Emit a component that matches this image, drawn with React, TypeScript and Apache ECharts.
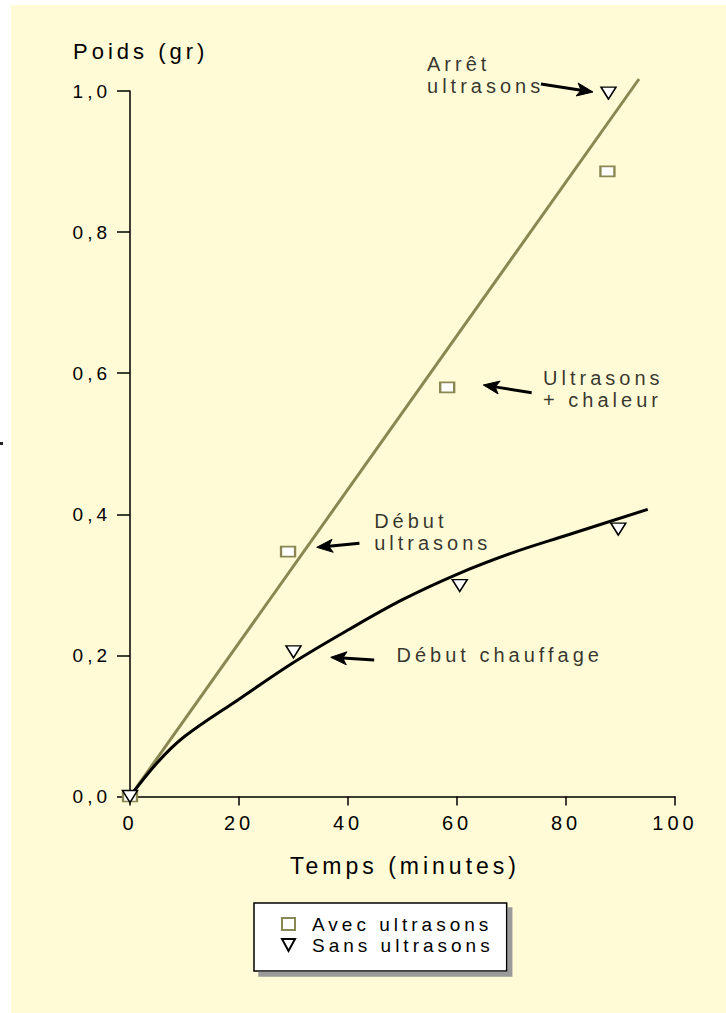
import React, { useEffect, useRef } from "react";
import * as echarts from "echarts";

// ---- data ----
const xTickValues = [0, 20, 40, 60, 80, 100];
const yTickValues = [0, 0.2, 0.4, 0.6, 0.8, 1.0];

const avecX = [0, 29.0, 58.2, 87.6];
const avecY = [0, 0.347, 0.58, 0.886];

const sansX = [0, 30.0, 60.5, 89.6, 87.8];
const sansY = [0, 0.205, 0.299, 0.379, 0.997];

const fitAvecX = [0, 93.4];
const fitAvecY = [0, 1.017];

const fitSansX = [0, 5, 10, 20, 30, 40, 50, 60, 70, 80, 95];
const fitSansY = [0, 0.048, 0.085, 0.138, 0.19, 0.236, 0.279, 0.315, 0.345, 0.37, 0.407];

const annotationTexts = ["Arrêt\nultrasons", "Ultrasons\n+ chaleur", "Début\nultrasons", "Début chauffage"];
const annotationX = [54.5, 75.8, 44.8, 48.9];
const annotationY = [1.0227, 0.5783, 0.3756, 0.2006];

// arrow tail (from) and tip (to)
const arrowFromX = [75.4, 73.7, 42.1, 44.8];
const arrowFromY = [1.01, 0.5723, 0.3589, 0.1935];
const arrowToX = [84.95, 64.83, 34.26, 36.83];
const arrowToY = [0.9986, 0.5833, 0.3532, 0.1973];

const legendNames = ["Avec ultrasons", "Sans ultrasons"];
const yAxisTitle = "Poids (gr)";
const xAxisTitle = "Temps (minutes)";

const OLIVE = "#8a8752";
const FONT = "'Liberation Sans', Arial, Helvetica, sans-serif";

export default function App() {
  const ref = useRef<HTMLDivElement>(null);

  useEffect(() => {
    if (!ref.current) return;
    const chart = echarts.init(ref.current, null, { renderer: "svg" });
    const option: any = {
      animation: false,
      backgroundColor: "#ffffff",
      textStyle: { fontFamily: FONT, color: "#000" },
      grid: { left: 130, right: 51, top: 91, bottom: 216.5, containLabel: false },
      graphic: [
        {
          type: "rect",
          z: -100,
          silent: true,
          shape: { x: 11, y: 5, width: 715, height: 1008 },
          style: { fill: "#fffbd6" },
        },
        {
          type: "rect",
          z: -99,
          silent: true,
          shape: { x: 0, y: 442, width: 3, height: 3 },
          style: { fill: "#222" },
        },
        {
          type: "text",
          x: 73,
          y: 51,
          silent: true,
          style: {
            text: yAxisTitle,
            fill: "#000",
            font: `22px ${FONT}`,
            textAlign: "left",
            textVerticalAlign: "middle",
          },
        },
        {
          type: "text",
          x: 290,
          y: 866,
          silent: true,
          style: {
            text: xAxisTitle,
            fill: "#000",
            font: `23px ${FONT}`,
            textAlign: "left",
            textVerticalAlign: "middle",
          },
        },
      ],
      legend: {
        orient: "vertical",
        left: 254,
        top: 903,
        data: [
          { name: legendNames[0], icon: "rect" },
          { name: legendNames[1], icon: "path://M0,0L12,0L6,11Z" },
        ],
        backgroundColor: "#ffffff",
        borderColor: "#000",
        borderWidth: 1.5,
        borderRadius: 0,
        padding: [11.5, 69, 16.5, 27],
        itemWidth: 13,
        itemHeight: 12,
        itemGap: 2,
        shadowColor: "#9a9a9a",
        shadowBlur: 0,
        shadowOffsetX: 5,
        shadowOffsetY: 5,
        selectedMode: false,
        textStyle: {
          fontSize: 19,
          lineHeight: 19,
          color: "#000",
          fontFamily: FONT,
          padding: [0, 0, 0, 12],
        },
      },
      xAxis: {
        type: "value",
        min: xTickValues[0],
        max: xTickValues[xTickValues.length - 1],
        interval: xTickValues[1] - xTickValues[0],
        splitLine: { show: false },
        axisLine: { show: true, onZero: false, lineStyle: { color: "#000", width: 1.5 } },
        axisTick: { show: true, length: 9, lineStyle: { color: "#000", width: 1.5 } },
        axisLabel: { color: "#000", fontSize: 20, fontFamily: FONT, margin: 16 },
      },
      yAxis: {
        type: "value",
        min: yTickValues[0],
        max: yTickValues[yTickValues.length - 1],
        interval: 0.2,
        splitLine: { show: false },
        axisLine: { show: true, onZero: false, lineStyle: { color: "#000", width: 1.5 } },
        axisTick: { show: true, length: 13, lineStyle: { color: "#000", width: 1.5 } },
        axisLabel: {
          color: "#000",
          fontSize: 19,
          fontFamily: FONT,
          margin: 19,
          formatter: (v: number) => v.toFixed(1).replace(".", ","),
        },
      },
      series: [
        {
          type: "line",
          name: "fitAvec",
          data: fitAvecX.map((x, i) => [x, fitAvecY[i]]),
          symbol: "none",
          clip: false,
          silent: true,
          lineStyle: { color: OLIVE, width: 3 },
          z: 2,
        },
        {
          type: "line",
          name: "fitSans",
          data: fitSansX.map((x, i) => [x, fitSansY[i]]),
          symbol: "none",
          smooth: 0.35,
          clip: false,
          silent: true,
          lineStyle: { color: "#000", width: 3 },
          z: 2,
        },
        {
          type: "scatter",
          name: legendNames[0],
          data: avecX.map((x, i) => [x, avecY[i]]),
          symbol: "rect",
          symbolSize: [14, 10],
          itemStyle: { color: "#ffffff", borderColor: OLIVE, borderWidth: 2, opacity: 1 },
          z: 3,
        },
        {
          type: "scatter",
          name: legendNames[1],
          data: sansX.map((x, i) => [x, sansY[i]]),
          symbol: "triangle",
          symbolRotate: 180,
          symbolSize: [15, 12],
          itemStyle: { color: "#ffffff", borderColor: "#000", borderWidth: 1.5, opacity: 1 },
          z: 4,
        },
        {
          type: "scatter",
          name: "annotations",
          clip: false,
          silent: true,
          symbolSize: 0,
          data: annotationX.map((x, i) => [x, annotationY[i]]),
          itemStyle: { color: "transparent" },
          label: {
            show: true,
            position: "right",
            distance: 0,
            align: "left",
            verticalAlign: "middle",
            fontSize: 20,
            lineHeight: 22,
            fontFamily: FONT,
            color: "#000",
            formatter: (p: any) => annotationTexts[p.dataIndex],
          },
          z: 5,
        },
        {
          type: "custom",
          name: "arrows",
          clip: false,
          silent: true,
          encode: { x: [0, 2], y: [1, 3] },
          data: arrowFromX.map((x, i) => [x, arrowFromY[i], arrowToX[i], arrowToY[i]]),
          renderItem: (params: any, api: any) => {
            const p1 = api.coord([api.value(0), api.value(1)]);
            const p2 = api.coord([api.value(2), api.value(3)]);
            const dx = p2[0] - p1[0];
            const dy = p2[1] - p1[1];
            const len = Math.sqrt(dx * dx + dy * dy) || 1;
            const ux = dx / len;
            const uy = dy / len;
            const headLen = 16;
            const halfW = 6.5;
            const notch = 4;
            const bx = p2[0] - ux * headLen;
            const by = p2[1] - uy * headLen;
            const nx = -uy;
            const ny = ux;
            return {
              type: "group",
              children: [
                {
                  type: "line",
                  shape: { x1: p1[0], y1: p1[1], x2: bx + ux * notch, y2: by + uy * notch },
                  style: { stroke: "#000", lineWidth: 3, fill: null },
                },
                {
                  type: "polygon",
                  shape: {
                    points: [
                      [p2[0], p2[1]],
                      [bx + nx * halfW, by + ny * halfW],
                      [bx + ux * notch, by + uy * notch],
                      [bx - nx * halfW, by - ny * halfW],
                    ],
                  },
                  style: { fill: "#000", stroke: "#000", lineWidth: 1 },
                },
              ],
            };
          },
          z: 5,
        },
      ],
    };
    chart.setOption(option);
    return () => chart.dispose();
  }, []);

  return (
    <>
      <style>{`.chart-ls text { letter-spacing: 4px !important; }`}</style>
      <div
        ref={ref}
        className="chart-ls"
        style={{ position: "fixed", left: 0, top: 0, width: 726, height: 1013 }}
      />
    </>
  );
}
